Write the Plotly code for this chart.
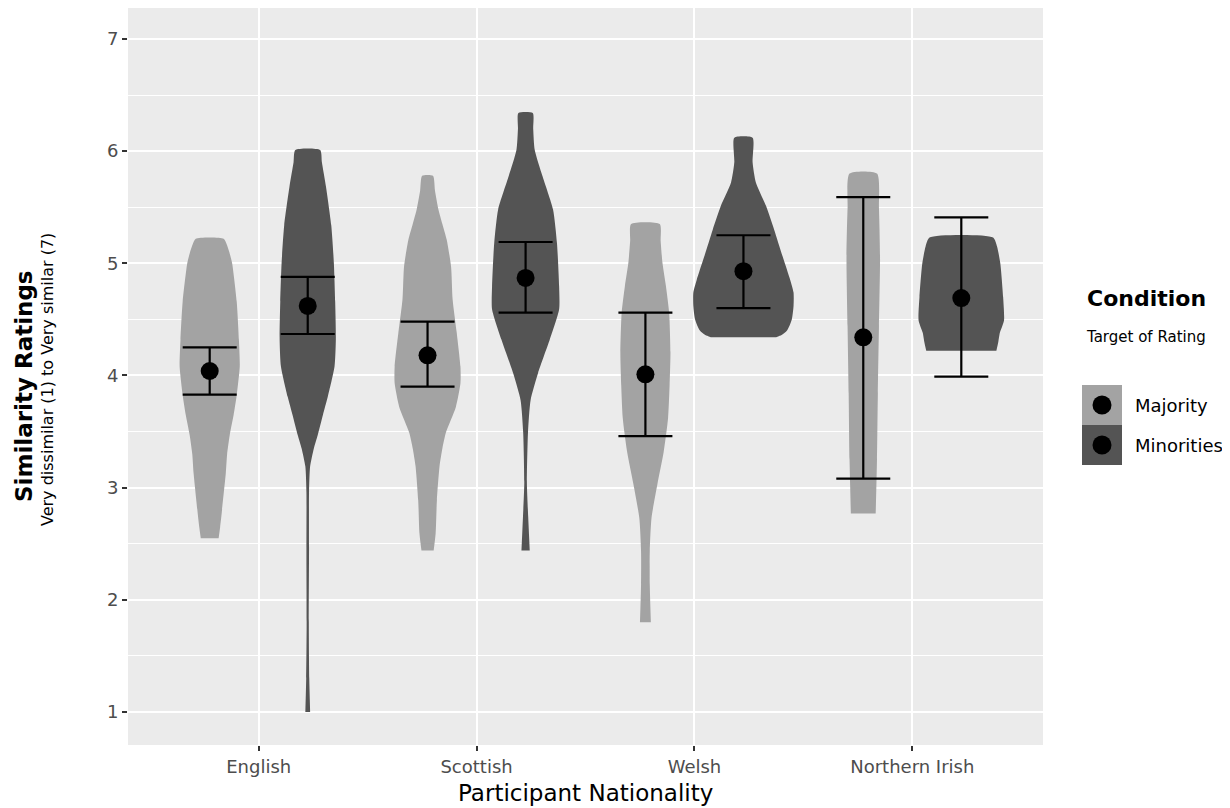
import plotly.graph_objects as go

# ---------------- data ----------------
nationalities = ["English", "Scottish", "Welsh", "Northern Irish"]
conditions = ["Majority", "Minorities"]

# violin outlines: rating levels (bottom -> top) and half-width of density at each level
eng_maj_levels = [2.55, 2.65, 2.79, 3.13, 3.30, 3.47, 3.65, 3.81, 4.08, 4.32, 4.66, 5.00, 5.10, 5.17, 5.22]
eng_maj_width = [0.041, 0.048, 0.056, 0.074, 0.080, 0.092, 0.110, 0.123, 0.138, 0.134, 0.124, 0.103, 0.090, 0.078, 0.064]

eng_min_levels = [1.00, 1.30, 1.77, 2.45, 2.96, 3.19, 3.35, 3.47, 3.65, 3.81, 4.08, 4.32, 4.66, 5.00, 5.34, 5.68, 5.90, 6.01]
eng_min_width = [0.011, 0.007, 0.005, 0.006, 0.006, 0.011, 0.028, 0.046, 0.070, 0.092, 0.123, 0.129, 0.126, 0.120, 0.108, 0.084, 0.065, 0.057]

sco_maj_levels = [2.44, 2.59, 2.89, 3.19, 3.35, 3.49, 3.72, 3.93, 4.08, 4.38, 4.68, 4.97, 5.21, 5.35, 5.48, 5.65, 5.78]
sco_maj_width = [0.028, 0.037, 0.043, 0.055, 0.068, 0.084, 0.130, 0.151, 0.151, 0.134, 0.115, 0.108, 0.088, 0.068, 0.050, 0.034, 0.025]

sco_min_levels = [2.44, 2.74, 3.04, 3.49, 3.78, 4.02, 4.32, 4.59, 4.79, 5.18, 5.48, 5.78, 6.01, 6.20, 6.34]
sco_min_width = [0.019, 0.012, 0.006, 0.011, 0.023, 0.057, 0.111, 0.154, 0.154, 0.144, 0.126, 0.077, 0.042, 0.035, 0.033]

wel_maj_levels = [1.80, 2.14, 2.43, 2.73, 3.03, 3.32, 3.62, 3.91, 4.21, 4.56, 4.80, 5.01, 5.20, 5.35]
wel_maj_width = [0.025, 0.020, 0.020, 0.028, 0.055, 0.084, 0.104, 0.111, 0.115, 0.109, 0.094, 0.078, 0.070, 0.066]

wel_min_levels = [4.34, 4.36, 4.40, 4.50, 4.62, 4.74, 4.85, 5.06, 5.30, 5.51, 5.72, 5.90, 6.12]
wel_min_width = [0.150, 0.175, 0.200, 0.222, 0.230, 0.230, 0.215, 0.180, 0.141, 0.104, 0.057, 0.042, 0.042]

ni_maj_levels = [2.77, 3.25, 3.84, 4.44, 5.04, 5.49, 5.80]
ni_maj_width = [0.057, 0.063, 0.067, 0.072, 0.077, 0.072, 0.063]

ni_min_levels = [4.22, 4.30, 4.38, 4.49, 4.70, 5.00, 5.15, 5.23]
ni_min_width = [0.161, 0.170, 0.177, 0.196, 0.192, 0.179, 0.164, 0.146]

# means and error-bar limits
maj_mean = [4.04, 4.18, 4.01, 4.34]
maj_upper = [4.25, 4.48, 4.56, 5.59]
maj_lower = [3.83, 3.90, 3.46, 3.08]
min_mean = [4.62, 4.87, 4.93, 4.69]
min_upper = [4.88, 5.19, 5.25, 5.41]
min_lower = [4.37, 4.56, 4.60, 3.99]

# ---------------- styling ----------------
FILL = {"Majority": "#A3A3A3", "Minorities": "#545454"}
DODGE = {"Majority": -0.225, "Minorities": 0.225}
FONT = "DejaVu Sans"

violins = {
    ("English", "Majority"): (eng_maj_levels, eng_maj_width),
    ("English", "Minorities"): (eng_min_levels, eng_min_width),
    ("Scottish", "Majority"): (sco_maj_levels, sco_maj_width),
    ("Scottish", "Minorities"): (sco_min_levels, sco_min_width),
    ("Welsh", "Majority"): (wel_maj_levels, wel_maj_width),
    ("Welsh", "Minorities"): (wel_min_levels, wel_min_width),
    ("Northern Irish", "Majority"): (ni_maj_levels, ni_maj_width),
    ("Northern Irish", "Minorities"): (ni_min_levels, ni_min_width),
}

fig = go.Figure()

for i, nat in enumerate(nationalities):
    for cond in conditions:
        lv, hw = violins[(nat, cond)]
        c = i + 1 + DODGE[cond]
        xs = [c + w for w in hw] + [c - w for w in reversed(hw)]
        ys = list(lv) + list(reversed(lv))
        fig.add_trace(go.Scatter(
            x=xs, y=ys, mode="lines", fill="toself",
            fillcolor=FILL[cond], line=dict(width=0, color=FILL[cond], shape="spline", smoothing=0.6),
            hoverinfo="skip", showlegend=False))

for cond, mean, up, lo in [("Majority", maj_mean, maj_upper, maj_lower),
                           ("Minorities", min_mean, min_upper, min_lower)]:
    xs = [i + 1 + DODGE[cond] for i in range(len(nationalities))]
    fig.add_trace(go.Scatter(
        x=xs, y=mean, mode="markers",
        marker=dict(color="black", size=18),
        error_y=dict(type="data", symmetric=False,
                     array=[u - m for u, m in zip(up, mean)],
                     arrayminus=[m - l for m, l in zip(mean, lo)],
                     color="black", thickness=2.2, width=27),
        name=cond, showlegend=False))

# ---------------- layout ----------------
# the page places the figure 8px from the window's top-left corner
OFF = 8
FIG_W, FIG_H = 1230 - OFF, 808 - OFF
L, R, T, B = 128, 1043, 8, 745          # panel edges in window pixels
W_PX, H_PX = R - L, B - T


def px_x(p):
    return (p - L) / W_PX


def px_y(p):
    return (B - p) / H_PX


fig.update_layout(
    width=FIG_W, height=FIG_H,
    margin=dict(l=L - OFF, r=FIG_W - (R - OFF), t=T - OFF, b=FIG_H - (B - OFF), autoexpand=False),
    paper_bgcolor="white", plot_bgcolor="#EBEBEB",
    font=dict(family=FONT, color="#4D4D4D"),
    showlegend=False,
)

fig.update_xaxes(
    range=[0.4, 4.6], tickvals=[1, 2, 3, 4], ticktext=nationalities,
    showgrid=True, gridcolor="white", gridwidth=2.2, zeroline=False, showline=False,
    ticks="outside", ticklen=5, tickwidth=1.5, tickcolor="#333333",
    tickfont=dict(size=18, family=FONT, color="#4D4D4D"),
)
fig.update_yaxes(
    range=[0.706, 7.276], tick0=0, dtick=1,
    showgrid=True, gridcolor="white", gridwidth=2.2, zeroline=False, showline=False,
    ticks="outside", ticklen=5, tickwidth=1.5, tickcolor="#333333",
    tickfont=dict(size=18, family=FONT, color="#4D4D4D"),
    minor=dict(dtick=0.5, showgrid=True, gridcolor="white", gridwidth=1.1),
)

annotations = [
    dict(text="Participant Nationality", x=0.5, y=px_y(793), xref="paper", yref="paper",
         xanchor="center", yanchor="middle", showarrow=False,
         font=dict(size=23, family=FONT, color="black")),
    dict(text="<b>Similarity Ratings</b>", x=px_x(24), y=px_y(386), xref="paper", yref="paper",
         xanchor="center", yanchor="middle", textangle=-90, showarrow=False,
         font=dict(size=23, family=FONT, color="black")),
    dict(text="Very dissimilar (1) to Very similar (7)", x=px_x(48), y=px_y(380), xref="paper", yref="paper",
         xanchor="center", yanchor="middle", textangle=-90, showarrow=False,
         font=dict(size=16, family=FONT, color="black")),
    dict(text="<b>Condition</b>", x=px_x(1146), y=px_y(298), xref="paper", yref="paper",
         xanchor="center", yanchor="middle", showarrow=False,
         font=dict(size=22, family=FONT, color="black")),
    dict(text="Target of Rating", x=px_x(1146), y=px_y(337), xref="paper", yref="paper",
         xanchor="center", yanchor="middle", showarrow=False,
         font=dict(size=15, family=FONT, color="black")),
]

shapes = []
key_top = 385
key_h = 40
for k, cond in enumerate(conditions):
    y0 = key_top + k * key_h
    shapes.append(dict(type="rect", xref="paper", yref="paper",
                       x0=px_x(1082), x1=px_x(1122), y0=px_y(y0 + key_h), y1=px_y(y0),
                       fillcolor=FILL[cond], line=dict(width=0)))
    cy = y0 + key_h / 2
    shapes.append(dict(type="circle", xref="paper", yref="paper",
                       x0=px_x(1102 - 9.5), x1=px_x(1102 + 9.5), y0=px_y(cy + 9.5), y1=px_y(cy - 9.5),
                       fillcolor="black", line=dict(width=0)))
    annotations.append(dict(text=cond, x=px_x(1133), y=px_y(cy), xref="paper", yref="paper",
                            xanchor="left", yanchor="middle", showarrow=False,
                            font=dict(size=18, family=FONT, color="black")))

fig.update_layout(annotations=annotations, shapes=shapes)

fig.write_html("out.html")
